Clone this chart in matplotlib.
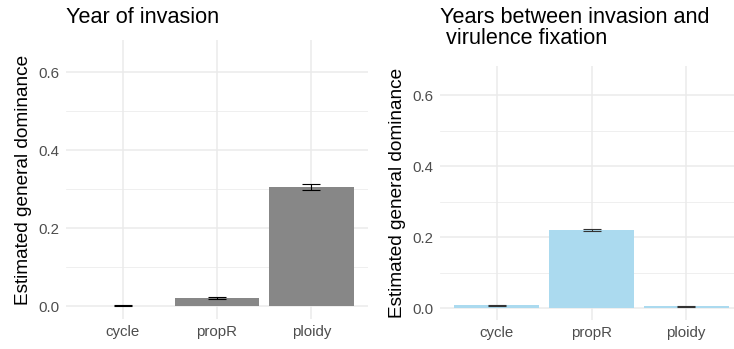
import matplotlib.pyplot as plt
import numpy as np

plt.rcParams['font.family'] = ['Liberation Sans', 'DejaVu Sans']

categories = ['cycle', 'propR', 'ploidy']

# year of invasion
inv_vals = [0.002, 0.021, 0.306]
inv_err = [0.001, 0.002, 0.008]

# years between invasion and virulence fixation
fix_vals = [0.009, 0.221, 0.006]
fix_err = [0.001, 0.002, 0.001]

titles = ['Year of invasion', 'Years between invasion and\n virulence fixation']

W, H = 734, 349
fig = plt.figure(figsize=(W / 100, H / 100), dpi=100)


def panel(rect, vals, errs, color, ecolor, title, title_y):
    l, t, r, b = rect
    ax = fig.add_axes([l / W, 1 - b / H, (r - l) / W, (b - t) / H])
    x = np.arange(1, len(categories) + 1)
    ax.bar(x, vals, width=0.9, color=color, zorder=2)
    ax.errorbar(x, vals, yerr=errs, fmt='none', ecolor=ecolor, elinewidth=0.8,
                capsize=6.8, capthick=0.8, zorder=3)
    ax.set_xlim(0.4, 3.6)
    ax.set_ylim(-0.0325, 0.6825)
    ax.set_xticks(x)
    ax.set_xticklabels(categories)
    ax.set_yticks([0.0, 0.2, 0.4, 0.6])
    ax.set_yticks([0.1, 0.3, 0.5], minor=True)
    ax.grid(True, which='major', color='#EBEBEB', lw=1.1, zorder=0)
    ax.grid(True, which='minor', axis='y', color='#EBEBEB', lw=0.55, zorder=0)
    ax.tick_params(which='both', length=0, labelsize=10.8, labelcolor='#4D4D4D')
    ax.tick_params(axis='y', pad=5)
    ax.tick_params(axis='x', pad=4)
    for s in ax.spines.values():
        s.set_visible(False)
    ax.set_ylabel('Estimated general dominance', fontsize=13.7, labelpad=4)
    fig.text(l / W, 1 - title_y / H, title, fontsize=15.6, ha='left', va='top',
             linespacing=1.0)
    return ax


panel((66, 40, 368, 319), inv_vals, inv_err, '#878787', 'black', titles[0], 7)
panel((440, 66, 743, 320), fix_vals, fix_err, '#ABDAEF', '#333333', titles[1], 7)

fig.savefig('out.png', dpi=100)
